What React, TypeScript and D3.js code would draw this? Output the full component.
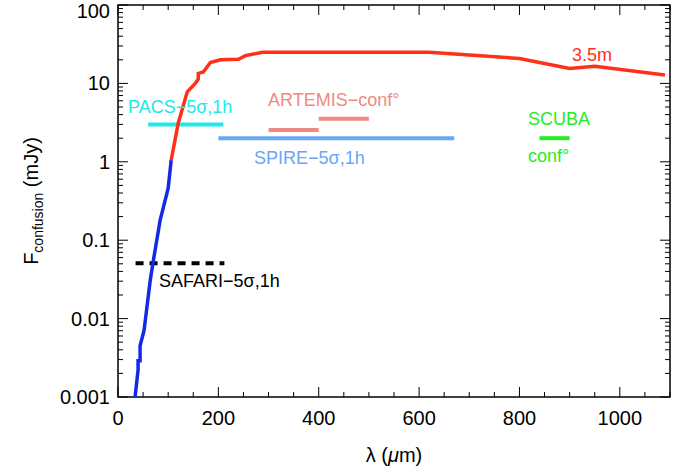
import React from "react";
import * as d3 from "d3";

const blueLam = [34, 40, 40, 44, 44, 52, 64, 70, 84, 100, 106];
const blueF = [0.001, 0.0022, 0.0029, 0.0029, 0.0045, 0.0071, 0.03, 0.053, 0.18, 0.46, 1.05];
const redLam = [106, 120, 138, 154, 160, 160, 170, 184, 204, 240, 254, 288, 620, 800, 900, 950, 1090];
const redF = [1.05, 3.1, 7.8, 10, 11.4, 13.4, 14, 18.5, 20, 20.3, 22.6, 25, 25, 20.8, 15.5, 16.5, 12.8];

const segs = [
  { x0: 60, x1: 210, y: 3, color: "#22e8e8", dash: "" },
  { x0: 200, x1: 670, y: 2, color: "#6aa6f8", dash: "" },
  { x0: 300, x1: 400, y: 2.55, color: "#f08a80", dash: "" },
  { x0: 400, x1: 500, y: 3.55, color: "#f08a80", dash: "" },
  { x0: 840, x1: 900, y: 2, color: "#22ee22", dash: "" },
  { x0: 35, x1: 212, y: 0.051, color: "#000", dash: "8,6" },
];

const xTicks = [0, 200, 400, 600, 800, 1000];
const yTicks = [0.001, 0.01, 0.1, 1, 10, 100];
const yLabels = ["0.001", "0.01", "0.1", "1", "10", "100"];

export default function App() {
  const L = 118, R = 670, T = 5, B = 397;
  const x = d3.scaleLinear().domain([0, 1100]).range([L, R]);
  const y = d3.scaleLog().domain([0.001, 100]).range([B, T]);
  const mk = (ls: number[], fs: number[]) =>
    d3.line<number>().x((d) => x(ls[d])).y((d) => y(fs[d]))(ls.map((_, i) => i)) || "";
  const minorX = d3.range(0, 1101, 50);
  const minorY: number[] = [];
  for (let e = -3; e < 2; e++) for (let k = 2; k <= 9; k++) minorY.push(k * Math.pow(10, e));
  const font = "'Liberation Sans', Arial, sans-serif";
  return (
    <svg width={673} height={470} style={{ position: "absolute", left: 0, top: 0, fontFamily: font }}>
      <rect x={0} y={0} width={673} height={470} fill="#fff" />
      <rect x={L} y={T} width={R - L} height={B - T} fill="none" stroke="#000" strokeWidth={1.5} />
      {minorX.map((v) => (
        <g key={"mx" + v}>
          <line x1={x(v)} x2={x(v)} y1={B} y2={B - (v % 200 === 0 ? 10 : 5)} stroke="#000" />
          <line x1={x(v)} x2={x(v)} y1={T} y2={T + (v % 200 === 0 ? 10 : 5)} stroke="#000" />
        </g>
      ))}
      {minorY.map((v, i) => (
        <g key={"my" + i}>
          <line x1={L} x2={L + 5} y1={y(v)} y2={y(v)} stroke="#000" />
          <line x1={R} x2={R - 5} y1={y(v)} y2={y(v)} stroke="#000" />
        </g>
      ))}
      {yTicks.map((v) => (
        <g key={"y" + v}>
          <line x1={L} x2={L + 10} y1={y(v)} y2={y(v)} stroke="#000" />
          <line x1={R} x2={R - 10} y1={y(v)} y2={y(v)} stroke="#000" />
        </g>
      ))}
      {xTicks.map((v) => (
        <text key={"xt" + v} x={x(v)} y={B + 28} fontSize={20} textAnchor="middle">{v}</text>
      ))}
      {yTicks.map((v, i) => (
        <text key={"yt" + v} x={L - 8} y={Math.max(y(v) + 7, 18)} fontSize={20} textAnchor="end">{yLabels[i]}</text>
      ))}
      <text x={394} y={462} fontSize={20} textAnchor="middle">λ (<tspan fontStyle="italic">μ</tspan>m)</text>
      <text transform="translate(38,201) rotate(-90)" fontSize={20} textAnchor="middle">
        F<tspan fontSize={14} dy={5}>confusion</tspan><tspan dy={-5}>  (mJy)</tspan>
      </text>
      {segs.map((s, i) => (
        <line key={"s" + i} x1={x(s.x0)} x2={x(s.x1)} y1={y(s.y)} y2={y(s.y)} stroke={s.color} strokeWidth={4} strokeDasharray={s.dash || undefined} />
      ))}
      <path d={mk(blueLam, blueF)} fill="none" stroke="#1428e8" strokeWidth={3.5} />
      <path d={mk(redLam, redF)} fill="none" stroke="#ff3018" strokeWidth={3.5} />
      <text x={128} y={113} fontSize={18} fill="#22e8e8">PACS−5σ,1h</text>
      <text x={268} y={106} fontSize={18} fill="#f08a80">ARTEMIS−conf°</text>
      <text x={254} y={164} fontSize={18} fill="#6aa6f8">SPIRE−5σ,1h</text>
      <text x={528} y={125} fontSize={18} fill="#22ee22">SCUBA</text>
      <text x={528} y={162} fontSize={18} fill="#22ee22">conf°</text>
      <text x={159} y={287} fontSize={18} fill="#000">SAFARI−5σ,1h</text>
      <text x={572} y={61} fontSize={18} fill="#ff3018">3.5m</text>
    </svg>
  );
}
